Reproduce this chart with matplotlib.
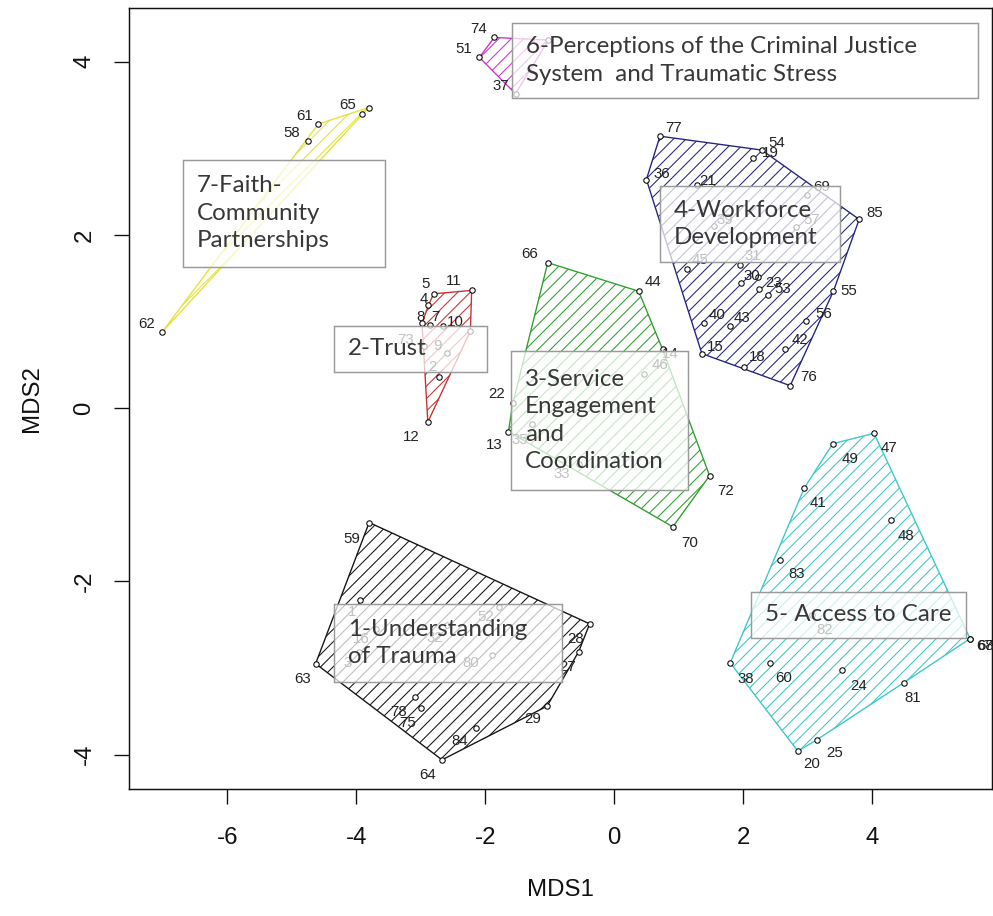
import numpy as np
import matplotlib
matplotlib.use("Agg")
import matplotlib.pyplot as plt
from matplotlib.patches import Polygon, Rectangle

plt.rcParams["axes.unicode_minus"] = False
plt.rcParams["hatch.linewidth"] = 0.5

# ---------------- data ----------------
cluster_names = [
    "1-Understanding\nof Trauma",
    "2-Trust",
    "3-Service\nEngagement\nand\nCoordination",
    "4-Workforce\nDevelopment",
    "5- Access to Care",
    "6-Perceptions of the Criminal Justice\nSystem  and Traumatic Stress",
    "7-Faith-\nCommunity\nPartnerships",
]

c1_labels = ["59", "63", "64", "84", "29", "27", "28", "78", "75", "1", "3", "16", "32", "52", "80"]
c1_x = [-3.80, -4.63, -2.67, -2.15, -1.04, -0.55, -0.38, -3.09, -3.00, -3.94, -3.95, -3.70, -2.60, -1.78, -1.89]
c1_y = [-1.32, -2.95, -4.06, -3.69, -3.44, -2.81, -2.49, -3.33, -3.46, -2.21, -2.82, -2.55, -2.50, -2.30, -2.85]

c2_labels = ["11", "5", "4", "8", "7", "10", "", "73", "9", "2", "12"]
c2_x = [-2.21, -2.80, -2.88, -2.98, -2.85, -2.65, -2.23, -2.95, -2.60, -2.71, -2.89]
c2_y = [1.36, 1.32, 1.19, 0.98, 0.96, 0.95, 0.89, 0.72, 0.64, 0.36, -0.16]

c3_labels = ["66", "44", "14", "46", "72", "70", "13", "22", "35", "33"]
c3_x = [-1.03, 0.38, 0.75, 0.47, 1.48, 0.91, -1.64, -1.57, -1.27, -0.55]
c3_y = [1.68, 1.35, 0.68, 0.39, -0.78, -1.37, -0.27, 0.06, -0.18, -0.65]

c4_labels = ["77", "54", "19", "36", "21", "69", "85", "57", "39", "45", "31", "30", "", "23",
             "53", "55", "56", "40", "43", "15", "42", "18", "76"]
c4_x = [0.71, 2.29, 2.16, 0.50, 1.29, 2.99, 3.80, 2.82, 1.55, 1.13, 1.95, 1.97, 2.23, 2.25,
        2.39, 3.40, 2.98, 1.40, 1.80, 1.36, 2.65, 2.02, 2.73]
c4_y = [3.14, 2.98, 2.89, 2.64, 2.58, 2.46, 2.18, 2.09, 2.10, 1.61, 1.65, 1.45, 1.51, 1.38,
        1.31, 1.35, 1.01, 0.98, 0.95, 0.63, 0.68, 0.48, 0.26]

c5_labels = ["47", "49", "41", "48", "83", "82", "68", "67", "38", "60", "24", "81", "25", "20"]
c5_x = [4.03, 3.39, 2.95, 4.29, 2.57, 3.07, 5.52, 5.52, 1.80, 2.41, 3.54, 4.49, 3.14, 2.85]
c5_y = [-0.29, -0.41, -0.92, -1.29, -1.75, -2.39, -2.66, -2.66, -2.94, -2.94, -3.02, -3.17, -3.83, -3.96]

c6_labels = ["74", "51", "37", ""]
c6_x = [-1.86, -2.09, -1.53, -1.02]
c6_y = [4.28, 4.05, 3.63, 4.25]

c7_labels = ["62", "58", "61", "65", ""]
c7_x = [-7.01, -4.75, -4.59, -3.91, -3.81]
c7_y = [0.88, 3.08, 3.28, 3.40, 3.47]

x_ticks = [-6, -4, -2, 0, 2, 4]
y_ticks = [-4, -2, 0, 2, 4]

# ---------------- layout / style ----------------
colors = ["#141414", "#c8302f", "#2e9e2e", "#232382", "#3cc7c7", "#cc33cc", "#e3e33a"]

# label offsets in pixels (dx, dy up)
c1_off = [(-17, -16), (-13, -15), (-14, -15), (-16, -13), (-14, -13), (-11, -15), (-14, -15),
          (-16, -15), (-13, -15), (-8, -12), (-12, -11), (-14, -10), (-12, -13), (-14, -10), (-22, -8)]
c2_off = [(-18, 9), (-8, 10), (-5, 6), (-2, 6), (5, 8), (12, 4), (0, 0), (-18, 6), (-9, 7), (-7, 10), (-17, -15)]
c3_off = [(-18, 9), (14, 9), (8, -5), (16, 9), (16, -15), (17, -16), (-14, -13), (-16, 9), (-12, -16), (-17, -10)]
c4_off = [(14, 8), (15, 7), (17, 5), (15, 6), (10, 4), (15, 8), (16, 6), (16, 7), (11, 6), (13, 9),
          (13, 9), (11, 7), (7, 9), (14, 6), (14, 6), (15, 0), (17, 7), (13, 8), (12, 8), (13, 7),
          (15, 9), (13, 10), (18, 9)]
c5_off = [(15, -15), (17, -15), (14, -15), (15, -16), (17, -14), (13, -15), (15, -7), (15, -7),
          (15, -16), (14, -15), (16, -16), (9, -15), (18, -13), (14, -13)]
c6_off = [(-16, 8), (-16, 8), (-15, 8), (0, 0)]
c7_off = [(-16, 8), (-16, 8), (-14, 8), (-14, 9), (0, 0)]

# label boxes (x0, x1, y0, y1) in data units
boxes = [(-4.35, -0.81, -3.16, -2.26),
         (-4.35, -1.98, 0.42, 0.95),
         (-1.60, 1.15, -0.94, 0.66),
         (0.71, 3.50, 1.69, 2.56),
         (2.12, 5.45, -2.65, -2.12),
         (-1.59, 5.64, 3.58, 4.45),
         (-6.69, -3.56, 1.63, 2.87)]

clusters = [
    (c1_labels, c1_x, c1_y, c1_off),
    (c2_labels, c2_x, c2_y, c2_off),
    (c3_labels, c3_x, c3_y, c3_off),
    (c4_labels, c4_x, c4_y, c4_off),
    (c5_labels, c5_x, c5_y, c5_off),
    (c6_labels, c6_x, c6_y, c6_off),
    (c7_labels, c7_x, c7_y, c7_off),
]


def convex_hull(xs, ys):
    pts = sorted(set(zip(xs, ys)))
    if len(pts) < 3:
        return pts

    def cross(o, a, b):
        return (a[0] - o[0]) * (b[1] - o[1]) - (a[1] - o[1]) * (b[0] - o[0])

    lower, upper = [], []
    for p in pts:
        while len(lower) >= 2 and cross(lower[-2], lower[-1], p) <= 0:
            lower.pop()
        lower.append(p)
    for p in reversed(pts):
        while len(upper) >= 2 and cross(upper[-2], upper[-1], p) <= 0:
            upper.pop()
        upper.append(p)
    return lower[:-1] + upper[:-1]


DPI = 150
fig = plt.figure(figsize=(993 / DPI, 916 / DPI), dpi=DPI)
fig.patch.set_facecolor("white")
ax = fig.add_axes([129.3 / 993, 1 - 789.3 / 916, (992 - 129.3) / 993, (789.3 - 8) / 916])

for (labs, xs, ys, offs), col in zip(clusters, colors):
    hull = convex_hull(xs, ys)
    ax.add_patch(Polygon(hull, closed=True, fill=False, edgecolor=col, hatch="////",
                         linewidth=0.65, zorder=1))
    ax.plot(xs, ys, linestyle="none", marker="o", markersize=2.6, markerfacecolor="white",
            markeredgecolor="black", markeredgewidth=0.5, zorder=2)
    for lab, x, y, (dx, dy) in zip(labs, xs, ys, offs):
        if lab:
            ax.annotate(lab, (x, y), xytext=(dx, dy), textcoords="offset pixels",
                        ha="center", va="center", fontsize=7.2, color="#222222",
                        family="Liberation Sans", zorder=3)

for (x0, x1, y0, y1), name in zip(boxes, cluster_names):
    ax.add_patch(Rectangle((x0, y0), x1 - x0, y1 - y0, facecolor=(1, 1, 1, 0.72),
                           edgecolor="#9a9a9a", linewidth=0.7, zorder=5))
    ax.text(x0 + 0.22, (y0 + y1) / 2, name, ha="left", va="center", fontsize=11.6,
            family="Lato", color="#383838", linespacing=1.38, zorder=6)

ax.set_xlim(-7.52, 5.86)
ax.set_ylim(-4.40, 4.62)
ax.set_xticks(x_ticks)
ax.set_xticklabels([str(t) for t in x_ticks])
ax.set_yticks(y_ticks)
ax.set_yticklabels([str(t) for t in y_ticks], rotation=90, va="center")
ax.tick_params(direction="out", length=7.2, width=0.65, labelsize=11.5, colors="#111111", pad=11)
ax.tick_params(axis="y", pad=9)
for lab in ax.get_xticklabels() + ax.get_yticklabels():
    lab.set_family("Liberation Sans")
for s in ax.spines.values():
    s.set_linewidth(0.7)
    s.set_color("#111111")

ax.set_xlabel("MDS1", fontsize=11.5, family="Liberation Sans", color="#111111")
ax.set_ylabel("MDS2", fontsize=11.5, family="Liberation Sans", color="#111111")
ax.xaxis.set_label_coords(0.5, -(890 - 789.3) / 781.3)
ax.xaxis.label.set_va("center")
ax.yaxis.set_label_coords(-(129.3 - 32) / 862.7, 0.5)
ax.yaxis.label.set_va("center")

fig.savefig("out.png", dpi=DPI, facecolor="white")
